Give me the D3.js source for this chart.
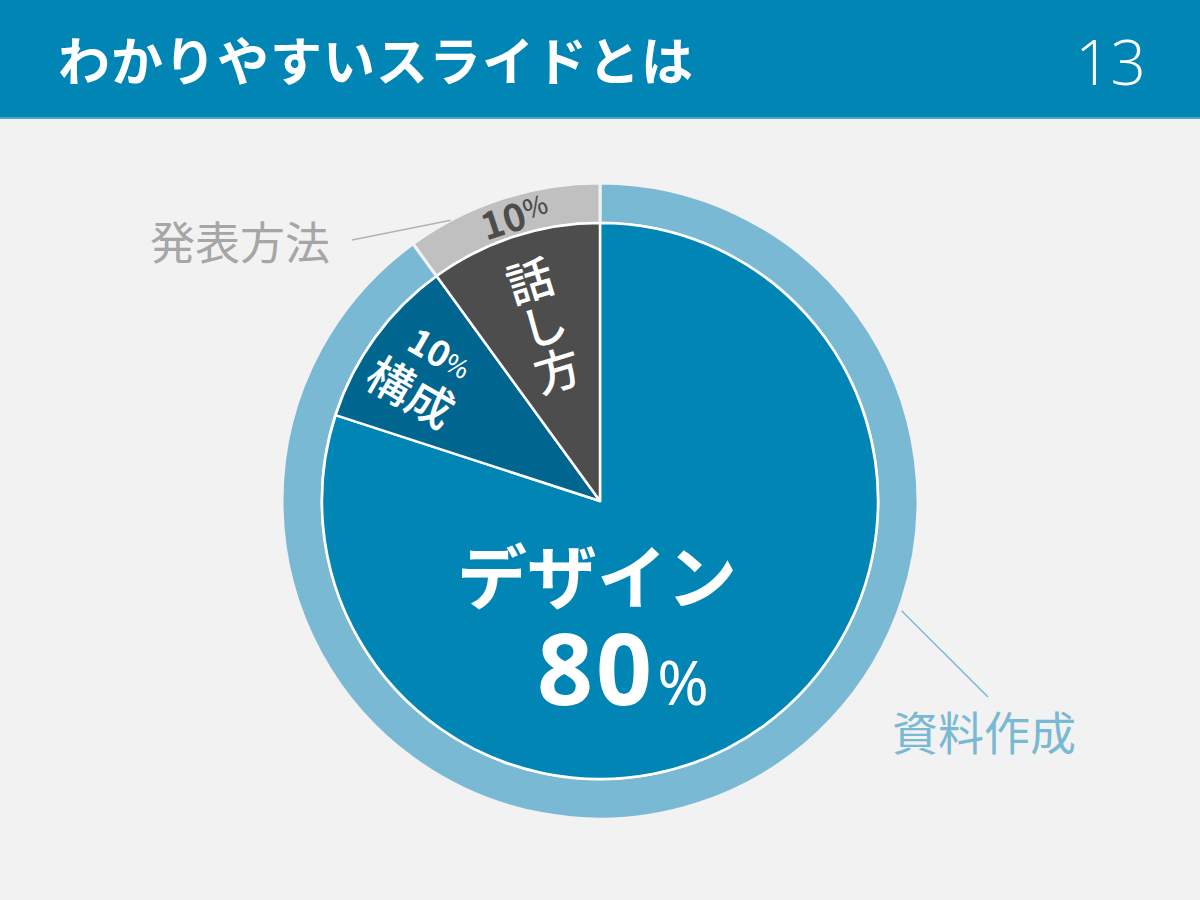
<!DOCTYPE html>
<html><head><meta charset="utf-8">
<script src="https://cdn.jsdelivr.net/npm/d3@7"></script>
<style>
html,body{margin:0;padding:0;background:#f2f2f2;}
svg{display:block;}
</style></head>
<body>
<svg id="chart" width="1200" height="900"></svg>
<script>
// ---- data ----
const title = "わかりやすいスライドとは";
const pageNumber = "13";
const innerCategories = ["デザイン", "構成", "話し方"];
const innerValues = [80, 10, 10];
const innerColors = ["#0085b5", "#00668f", "#4d4d4d"];
const outerCategories = ["資料作成", "発表方法"];
const outerValues = [90, 10];
const outerColors = ["#7ab9d4", "#c0c0c0"];

const svg = d3.select("#chart");
const W = 1200, H = 900;
const JP = "'Noto Sans CJK JP','Noto Sans',sans-serif";

svg.append("rect").attr("width", W).attr("height", H).attr("fill", "#f2f2f2");
// header
svg.append("rect").attr("x", 0).attr("y", 0).attr("width", W).attr("height", 118).attr("fill", "#0085b5");
svg.append("rect").attr("x", 0).attr("y", 117).attr("width", W).attr("height", 2).attr("fill", "#4aa6cc");
svg.append("text").attr("x", 58).attr("y", 58).attr("dominant-baseline", "central")
  .attr("font-family", JP).attr("font-weight", 700).attr("font-size", 52)
  .attr("fill", "#ffffff").attr("letter-spacing", 1).text(title);
svg.append("text").attr("x", 1146).attr("y", 61).attr("dominant-baseline", "central")
  .attr("text-anchor", "end").attr("font-family", "'Open Sans','Noto Sans',sans-serif")
  .attr("font-weight", 300).attr("font-size", 62).attr("fill", "#ffffff").text(pageNumber);

// chart
const cx = 600, cy = 501;
const rOuter = 318, rInner = 278;
const g = svg.append("g").attr("transform", `translate(${cx},${cy})`);

const pie = d3.pie().sort(null).value(d => d);
const outerArcs = pie(outerValues);
const innerArcs = pie(innerValues);

const arcOuter = d3.arc().innerRadius(rInner).outerRadius(rOuter);
const arcInner = d3.arc().innerRadius(0).outerRadius(rInner);

g.selectAll("path.outer").data(outerArcs).enter().append("path")
  .attr("class", "outer").attr("d", arcOuter)
  .attr("fill", (d, i) => outerColors[i])
  .attr("stroke", "#f2f2f2").attr("stroke-width", 3);

g.selectAll("path.inner").data(innerArcs).enter().append("path")
  .attr("class", "inner").attr("d", arcInner)
  .attr("fill", (d, i) => innerColors[i])
  .attr("stroke", "#ffffff").attr("stroke-width", 2.5).attr("stroke-linejoin", "round");

// polar helper (angle in radians clockwise from top)
const polar = (a, r) => [r * Math.sin(a), -r * Math.cos(a)];

// leader lines
const deg = Math.PI / 180;
const topLeaderAngle = -28 * deg;   // on 発表方法 ring
const rightLeaderAngle = 110 * deg; // on 資料作成 ring
const p1 = polar(topLeaderAngle, rOuter);
g.append("line").attr("x1", p1[0]).attr("y1", p1[1])
  .attr("x2", 352 - cx).attr("y2", 240 - cy)
  .attr("stroke", "#b3b3b3").attr("stroke-width", 1.5);
const p2 = polar(rightLeaderAngle, rOuter + 3);
g.append("line").attr("x1", p2[0]).attr("y1", p2[1])
  .attr("x2", 988 - cx).attr("y2", 697 - cy)
  .attr("stroke", "#7ab9d4").attr("stroke-width", 1.5);

// outer labels
svg.append("text").attr("x", 150).attr("y", 240).attr("dominant-baseline", "central")
  .attr("font-family", JP).attr("font-size", 45).attr("fill", "#a6a6a6").text(outerCategories[1]);
svg.append("text").attr("x", 892).attr("y", 730).attr("dominant-baseline", "central")
  .attr("font-family", JP).attr("font-size", 46).attr("fill", "#7ab9d4").text(outerCategories[0]);

// ring percentage for 発表方法
const pct = v => v + "";
const t1 = svg.append("g").attr("transform", "translate(514,214) rotate(-18)")
  .append("text").attr("text-anchor", "middle").attr("dominant-baseline", "central")
  .attr("font-family", JP).attr("fill", "#4d4d4d");
t1.append("tspan").attr("font-weight", 700).attr("font-size", 38).text(pct(outerValues[1]));
t1.append("tspan").attr("font-weight", 500).attr("font-size", 26).attr("dy", -3).text("%");

// デザイン label
svg.append("text").attr("x", 597).attr("y", 573).attr("text-anchor", "middle")
  .attr("dominant-baseline", "central").attr("font-family", JP).attr("font-weight", 700)
  .attr("font-size", 70).attr("fill", "#ffffff").text(innerCategories[0]);
const t80 = svg.append("text").attr("x", 537).attr("y", 705)
  .attr("font-family", "'Noto Sans',sans-serif").attr("fill", "#ffffff");
t80.append("tspan").attr("font-weight", 700).attr("font-size", 98).attr("letter-spacing", 3).text(pct(innerValues[0]));
t80.append("tspan").attr("font-weight", 400).attr("font-size", 62).attr("dx", 2).text("%");

// 構成 label
const gk = svg.append("g").attr("transform", "translate(420,376) rotate(30)");
const tk = gk.append("text").attr("x", 6).attr("y", -32).attr("text-anchor", "middle")
  .attr("dominant-baseline", "central").attr("font-family", JP).attr("fill", "#ffffff");
tk.append("tspan").attr("font-weight", 700).attr("font-size", 36).text(pct(innerValues[1]));
tk.append("tspan").attr("font-weight", 500).attr("font-size", 25).attr("dy", 3).text("%");
gk.append("text").attr("x", 0).attr("y", 16).attr("text-anchor", "middle")
  .attr("dominant-baseline", "central").attr("font-family", JP).attr("font-weight", 500)
  .attr("font-size", 46).attr("fill", "#ffffff").text(innerCategories[1]);

// 話し方 label (vertical)
const gh = svg.append("g").attr("transform", "translate(543,323) rotate(-17)");
Array.from(innerCategories[2]).forEach((ch, i) => {
  gh.append("text").attr("x", 0).attr("y", (i - 1) * 47).attr("text-anchor", "middle")
    .attr("dominant-baseline", "central").attr("font-family", JP).attr("font-weight", 500)
    .attr("font-size", 46).attr("fill", "#ffffff").text(ch);
});
</script>
</body></html>
